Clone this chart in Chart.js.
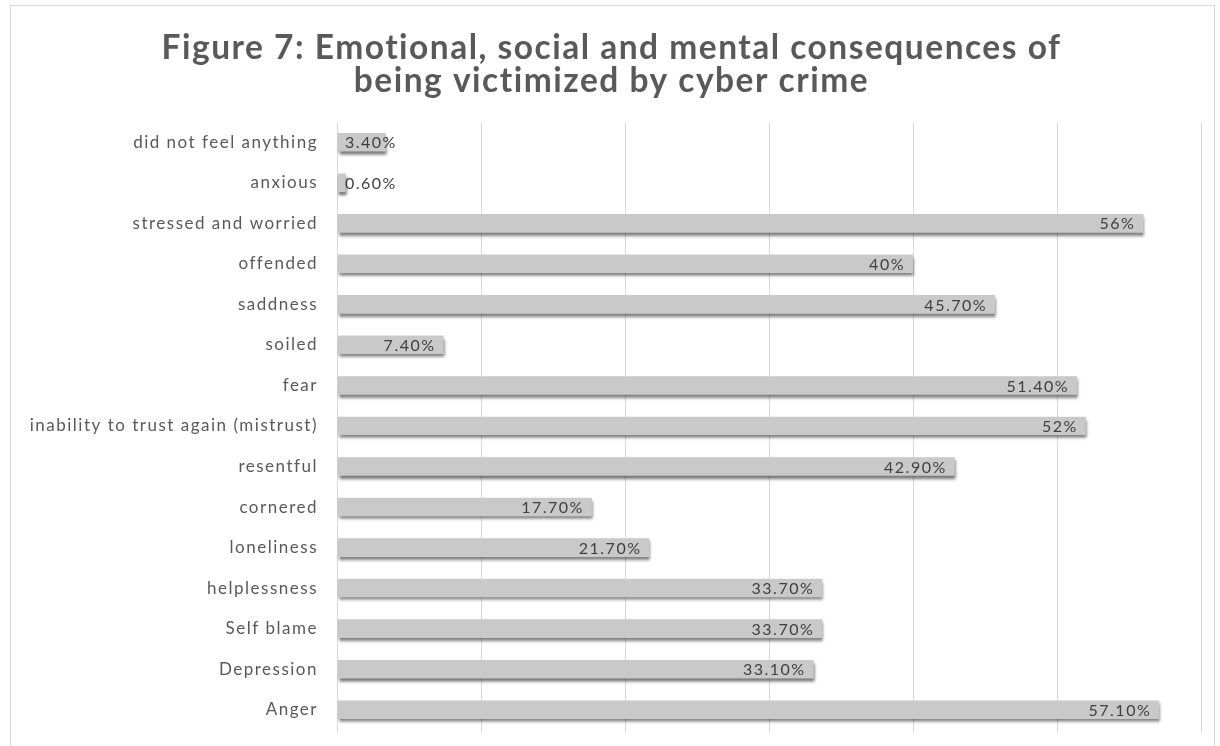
<!DOCTYPE html>
<html>
<head>
<meta charset="utf-8">
<title>Figure 7</title>
<script src="https://cdn.jsdelivr.net/npm/chart.js@4"></script>
<style>
  html, body { margin: 0; padding: 0; background: #fff; }
  #wrap { width: 1220px; height: 746px; position: relative; }
</style>
</head>
<body>
<div id="wrap"><canvas id="barChart" width="1220" height="746"></canvas></div>
<script>
// categories top to bottom
var feelings = [
  "did not feel anything",
  "anxious",
  "stressed and worried",
  "offended",
  "saddness",
  "soiled",
  "fear",
  "inability to trust again (mistrust)",
  "resentful",
  "cornered",
  "loneliness",
  "helplessness",
  "Self blame",
  "Depression",
  "Anger"
];

// share of victims, in percent
var shares = [3.4, 0.6, 56, 40, 45.7, 7.4, 51.4, 52, 42.9, 17.7, 21.7, 33.7, 33.7, 33.1, 57.1];

// text printed on each bar
var shareLabels = ["3.40%", "0.60%", "56%", "40%", "45.70%", "7.40%", "51.40%", "52%",
  "42.90%", "17.70%", "21.70%", "33.70%", "33.70%", "33.10%", "57.10%"];

var titleLines = [
  "Figure 7: Emotional, social and mental consequences of",
  "being victimized by cyber crime"
];

var textGrey = "#595959";

// white page, thin outer frame and the wide letter spacing of the text
var framePlugin = {
  id: "frame",
  beforeDraw: function(chart) {
    var ctx = chart.ctx;
    ctx.fillStyle = "#ffffff";
    ctx.fillRect(0, 0, chart.width, chart.height);
    ctx.strokeStyle = "#d9d9d9";
    ctx.lineWidth = 1;
    ctx.strokeRect(10.5, 5.5, 1204, 760);
    ctx.letterSpacing = "1.5px";
  }
};

// soft drop shadow under the bars
var shadowPlugin = {
  id: "barShadow",
  beforeDatasetDraw: function(chart) {
    var ctx = chart.ctx;
    ctx.save();
    ctx.shadowColor = "rgba(0,0,0,0.55)";
    ctx.shadowBlur = 3;
    ctx.shadowOffsetX = 1;
    ctx.shadowOffsetY = 3;
  },
  afterDatasetDraw: function(chart) {
    chart.ctx.restore();
  }
};

// value labels at the inside end of each bar
var valueLabels = {
  id: "valueLabels",
  afterDatasetsDraw: function(chart) {
    var ctx = chart.ctx;
    var meta = chart.getDatasetMeta(0);
    var x0 = chart.scales.x.getPixelForValue(0);
    ctx.save();
    ctx.font = "16px Lato";
    ctx.letterSpacing = "1.5px";
    ctx.fillStyle = "#404040";
    ctx.textAlign = "right";
    ctx.textBaseline = "middle";
    meta.data.forEach(function(bar, i) {
      var txt = shareLabels[i];
      var w = ctx.measureText(txt).width;
      var right = Math.max(bar.x - 8, x0 + 8 + w);
      ctx.fillText(txt, right, bar.y + 1);
    });
    ctx.restore();
  }
};

new Chart(document.getElementById("barChart"), {
  type: "bar",
  data: {
    labels: feelings,
    datasets: [{
      data: shares,
      backgroundColor: "#c9c9c9",
      borderWidth: 0,
      barPercentage: 0.46,
      categoryPercentage: 1
    }]
  },
  options: {
    indexAxis: "y",
    responsive: false,
    animation: false,
    layout: { padding: { left: 22, right: 19, top: 0, bottom: 0 } },
    plugins: {
      legend: { display: false },
      tooltip: { enabled: false },
      title: {
        display: true,
        text: titleLines,
        color: textGrey,
        font: { family: "Lato", size: 33.5, weight: "bold", lineHeight: 0.985 },
        padding: { top: 32, bottom: 24 }
      }
    },
    scales: {
      x: {
        min: 0,
        max: 60,
        afterFit: function(scale) {
          scale.height = 16;
          scale.paddingLeft = 0;
          scale.paddingRight = 0;
        },
        ticks: { stepSize: 10, display: false },
        grid: { color: "#d9d9d9", drawTicks: true, tickLength: 3 },
        border: { display: false }
      },
      y: {
        afterFit: function(scale) {
          scale.width = 315;
          scale.paddingTop = 0;
          scale.paddingBottom = 0;
        },
        ticks: { color: textGrey, font: { family: "Lato", size: 17 }, padding: 19 },
        grid: { display: false, drawTicks: false },
        border: { display: false }
      }
    }
  },
  plugins: [framePlugin, shadowPlugin, valueLabels]
});
</script>
</body>
</html>
